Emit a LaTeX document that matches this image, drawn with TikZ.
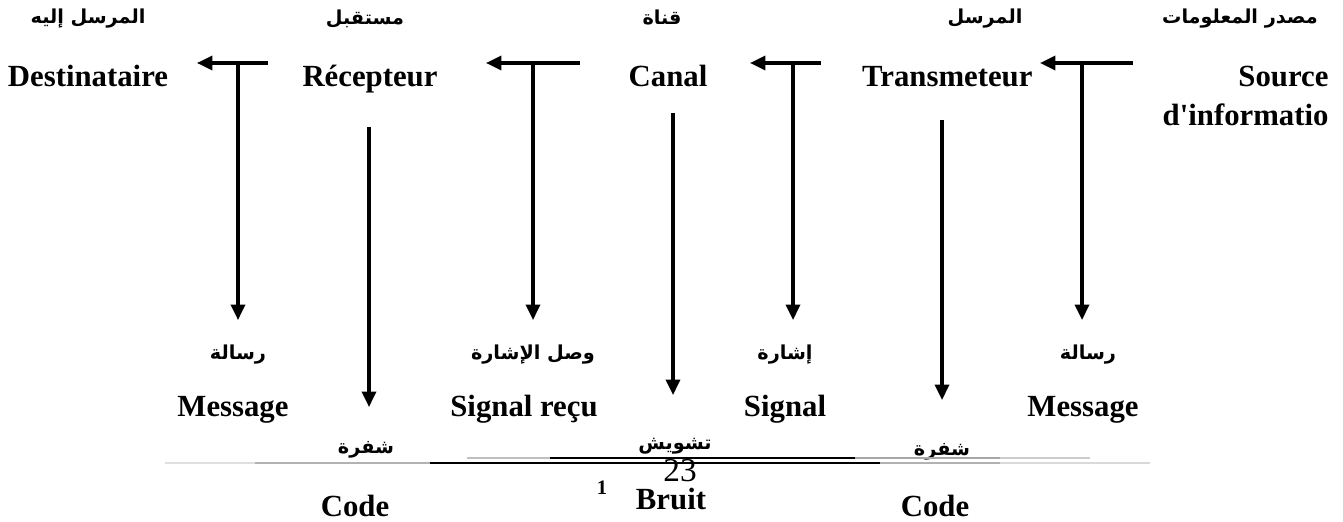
\documentclass[tikz,border=0pt]{standalone}
\usepackage{fontspec}
\setmainfont{Liberation Serif}
\newfontfamily\arabicfont[Script=Arabic]{DejaVu Sans}
\usetikzlibrary{arrows.meta}
\TeXXeTstate=1
\newcommand{\artxt}[1]{{\arabicfont\bfseries\beginR #1\endR}}

\begin{document}
\begin{tikzpicture}[x=0.39pt,y=-0.39pt, line join=round,
    lat/.style={font=\bfseries\fontsize{12}{14}\selectfont, inner sep=0pt, anchor=base},
    arb/.style={font=\fontsize{7.5}{9}\selectfont, inner sep=0pt},
    flow/.style={line width=1.2pt, -{Triangle[length=6pt,width=5.5pt]}},
    rule/.style={line width=0.5pt}]
    \useasboundingbox (0,0) rectangle (1343,521);
    \def\ya{63} \def\yb{320}
    % top labels
    \node[arb] (arDest) at (88,19) {\artxt{المرسل إليه}};
    \node[arb] (arRecep) at (365,19) {\artxt{مستقبل}};
    \node[arb] (arCanal) at (662,17) {\artxt{قناة}};
    \node[arb] (arTrans) at (985,19) {\artxt{المرسل}};
    \node[arb] (arSource) at (1240,19) {\artxt{مصدر المعلومات}};
    \node[lat] (dest) at (88,87) {Destinataire};
    \node[lat] (recep) at (370,87) {Récepteur};
    \node[lat] (canal) at (668,87) {Canal};
    \node[lat, anchor=base east] (trans) at (1033,87) {Transmeteur};
    \node[lat, anchor=base east] (source) at (1329,87) {Source};
    \node[lat, anchor=base east] (sourceb) at (1329,126) {d\textquotesingle informatio};
    % T arrows
    \coordinate (h1) at (268,\ya); \coordinate (t1) at (197,\ya); \coordinate (s1) at (238,\ya);
    \coordinate (h2) at (580,\ya); \coordinate (t2) at (486,\ya); \coordinate (s2) at (533,\ya);
    \coordinate (h3) at (821,\ya); \coordinate (t3) at (750,\ya); \coordinate (s3) at (793,\ya);
    \coordinate (h4) at (1133,\ya); \coordinate (t4) at (1040,\ya); \coordinate (s4) at (1082,\ya);
    \draw[flow] (h1) -- (t1);
    \draw[flow] (h2) -- (t2);
    \draw[flow] (h3) -- (t3);
    \draw[flow] (h4) -- (t4);
    \draw[flow] (s1) -- (238,\yb);
    \draw[flow] (s2) -- (533,\yb);
    \draw[flow] (s3) -- (793,\yb);
    \draw[flow] (s4) -- (1082,\yb);
    % down arrows
    \draw[flow] (369,127) -- (369,407);
    \draw[flow] (673,113) -- (673,395);
    \draw[flow] (942,120) -- (942,400);
    % lower labels
    \node[arb] (arMsgL) at (238,355) {\artxt{رسالة}};
    \node[arb] (arSigR) at (533,355) {\artxt{وصل الإشارة}};
    \node[arb] (arSig) at (785,355) {\artxt{إشارة}};
    \node[arb] (arMsgR) at (1088,355) {\artxt{رسالة}};
    \node[lat] (msgL) at (233,416) {Message};
    \node[lat] (sigR) at (524,416) {Signal reçu};
    \node[lat] (sig) at (785,416) {Signal};
    \node[lat] (msgR) at (1083,416) {Message};
    \node[arb] (arCodeL) at (366,450) {\artxt{شفرة}};
    \node[arb] (arBruit) at (675,446) {\artxt{تشويش}};
    \node[arb] (arCodeR) at (942,452) {\artxt{شفرة}};
    % footnote rules
    \draw[rule, gray!50] (467,458) -- (550,458);
    \draw[rule] (550,458) -- (855,458);
    \draw[rule, gray!70] (855,458) -- (1000,458);
    \draw[rule, gray!40] (1000,458) -- (1090,458);
    \draw[rule, gray!25] (165,463) -- (255,463);
    \draw[rule, gray!60] (255,463) -- (430,463);
    \draw[rule] (430,463) -- (880,463);
    \draw[rule, gray!60] (880,463) -- (1000,463);
    \draw[rule, gray!30] (1000,463) -- (1150,463);
    \node[inner sep=0pt, font=\fontsize{13}{14}\selectfont] (pg) at (680,471) {23};
    \node[inner sep=0pt, font=\bfseries\fontsize{8}{9}\selectfont] (fn) at (602,488) {1};
    \node[lat] (codeL) at (355,516) {Code};
    \node[lat] (bruit) at (671,509) {Bruit};
    \node[lat] (codeR) at (935,516) {Code};
\end{tikzpicture}
\end{document}
